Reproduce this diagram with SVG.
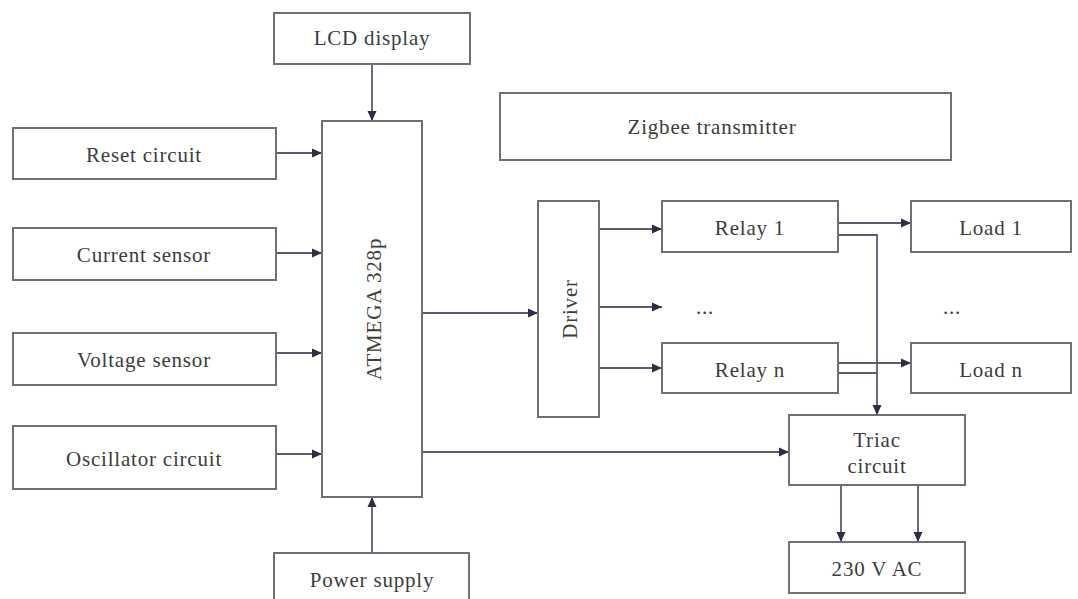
<svg xmlns="http://www.w3.org/2000/svg" width="1078" height="599" viewBox="0 0 1078 599">
<defs>
<style>
.box{fill:#ffffff;stroke:#6e6f78;stroke-width:2}
.lbl{font-family:"Liberation Serif","Times New Roman",serif;font-size:21px;fill:#3c3c3c;text-anchor:middle;dominant-baseline:central;letter-spacing:0.8px}
.ln{fill:none;stroke:#585c6e;stroke-width:1.8}
</style>
<marker id="ah" viewBox="0 0 10 10" refX="10" refY="5" markerWidth="10" markerHeight="10" markerUnits="userSpaceOnUse" orient="auto">
<path d="M0,0.5 L10,5 L0,9.5 Z" fill="#2b2e47"/>
</marker>
</defs>
<rect width="1078" height="599" fill="#ffffff"/>

<g id="connectors">
<line class="ln" x1="372" y1="64" x2="372" y2="121" marker-end="url(#ah)"/>
<line class="ln" x1="276" y1="153" x2="322" y2="153" marker-end="url(#ah)"/>
<line class="ln" x1="276" y1="253" x2="322" y2="253" marker-end="url(#ah)"/>
<line class="ln" x1="276" y1="353" x2="322" y2="353" marker-end="url(#ah)"/>
<line class="ln" x1="276" y1="454" x2="322" y2="454" marker-end="url(#ah)"/>
<line class="ln" x1="372" y1="553" x2="372" y2="497" marker-end="url(#ah)"/>
<line class="ln" x1="422" y1="313" x2="538" y2="313" marker-end="url(#ah)"/>
<line class="ln" x1="422" y1="452" x2="789" y2="452" marker-end="url(#ah)"/>
<line class="ln" x1="599" y1="229" x2="662" y2="229" marker-end="url(#ah)"/>
<line class="ln" x1="599" y1="307" x2="662" y2="307" marker-end="url(#ah)"/>
<line class="ln" x1="599" y1="368" x2="662" y2="368" marker-end="url(#ah)"/>
<line class="ln" x1="838" y1="223" x2="911" y2="223" marker-end="url(#ah)"/>
<polyline class="ln" points="838,235 877,235 877,415" marker-end="url(#ah)"/>
<line class="ln" x1="838" y1="363" x2="911" y2="363" marker-end="url(#ah)"/>
<line class="ln" x1="838" y1="373" x2="877" y2="373"/>
<line class="ln" x1="841" y1="485" x2="841" y2="542" marker-end="url(#ah)"/>
<line class="ln" x1="918" y1="485" x2="918" y2="542" marker-end="url(#ah)"/>
</g>

<g id="lcd"><rect class="box" x="274" y="13" width="196" height="51"/><text class="lbl" x="372" y="38">LCD display</text></g>
<g id="atmega"><rect class="box" x="322" y="121" width="100" height="376"/><text class="lbl" transform="translate(374,309) rotate(-90)">ATMEGA 328p</text></g>
<g id="reset"><rect class="box" x="13" y="128" width="263" height="51"/><text class="lbl" x="144" y="155">Reset circuit</text></g>
<g id="current"><rect class="box" x="13" y="228" width="263" height="52"/><text class="lbl" x="144" y="255">Current sensor</text></g>
<g id="voltage"><rect class="box" x="13" y="333" width="263" height="52"/><text class="lbl" x="144" y="360">Voltage sensor</text></g>
<g id="oscillator"><rect class="box" x="13" y="426" width="263" height="63"/><text class="lbl" x="144" y="459">Oscillator circuit</text></g>
<g id="power"><rect class="box" x="274" y="553" width="195" height="56"/><text class="lbl" x="372" y="580">Power supply</text></g>
<g id="zigbee"><rect class="box" x="500" y="93" width="451" height="67"/><text class="lbl" x="712" y="127">Zigbee transmitter</text></g>
<g id="driver"><rect class="box" x="538" y="201" width="61" height="216"/><text class="lbl" transform="translate(570,309) rotate(-90)">Driver</text></g>
<g id="relay1"><rect class="box" x="662" y="201" width="176" height="51"/><text class="lbl" x="750" y="228">Relay 1</text></g>
<g id="relayn"><rect class="box" x="662" y="343" width="176" height="50"/><text class="lbl" x="750" y="370">Relay n</text></g>
<g id="dots1"><text class="lbl" x="705" y="307">...</text></g>
<g id="load1"><rect class="box" x="911" y="201" width="160" height="51"/><text class="lbl" x="991" y="228">Load 1</text></g>
<g id="loadn"><rect class="box" x="911" y="343" width="160" height="50"/><text class="lbl" x="991" y="370">Load n</text></g>
<g id="dots2"><text class="lbl" x="952" y="307">...</text></g>
<g id="triac"><rect class="box" x="789" y="415" width="176" height="70"/><text class="lbl" x="877" y="440">Triac</text><text class="lbl" x="877" y="466">circuit</text></g>
<g id="ac"><rect class="box" x="789" y="542" width="176" height="51"/><text class="lbl" x="877" y="569">230 V AC</text></g>
</svg>
